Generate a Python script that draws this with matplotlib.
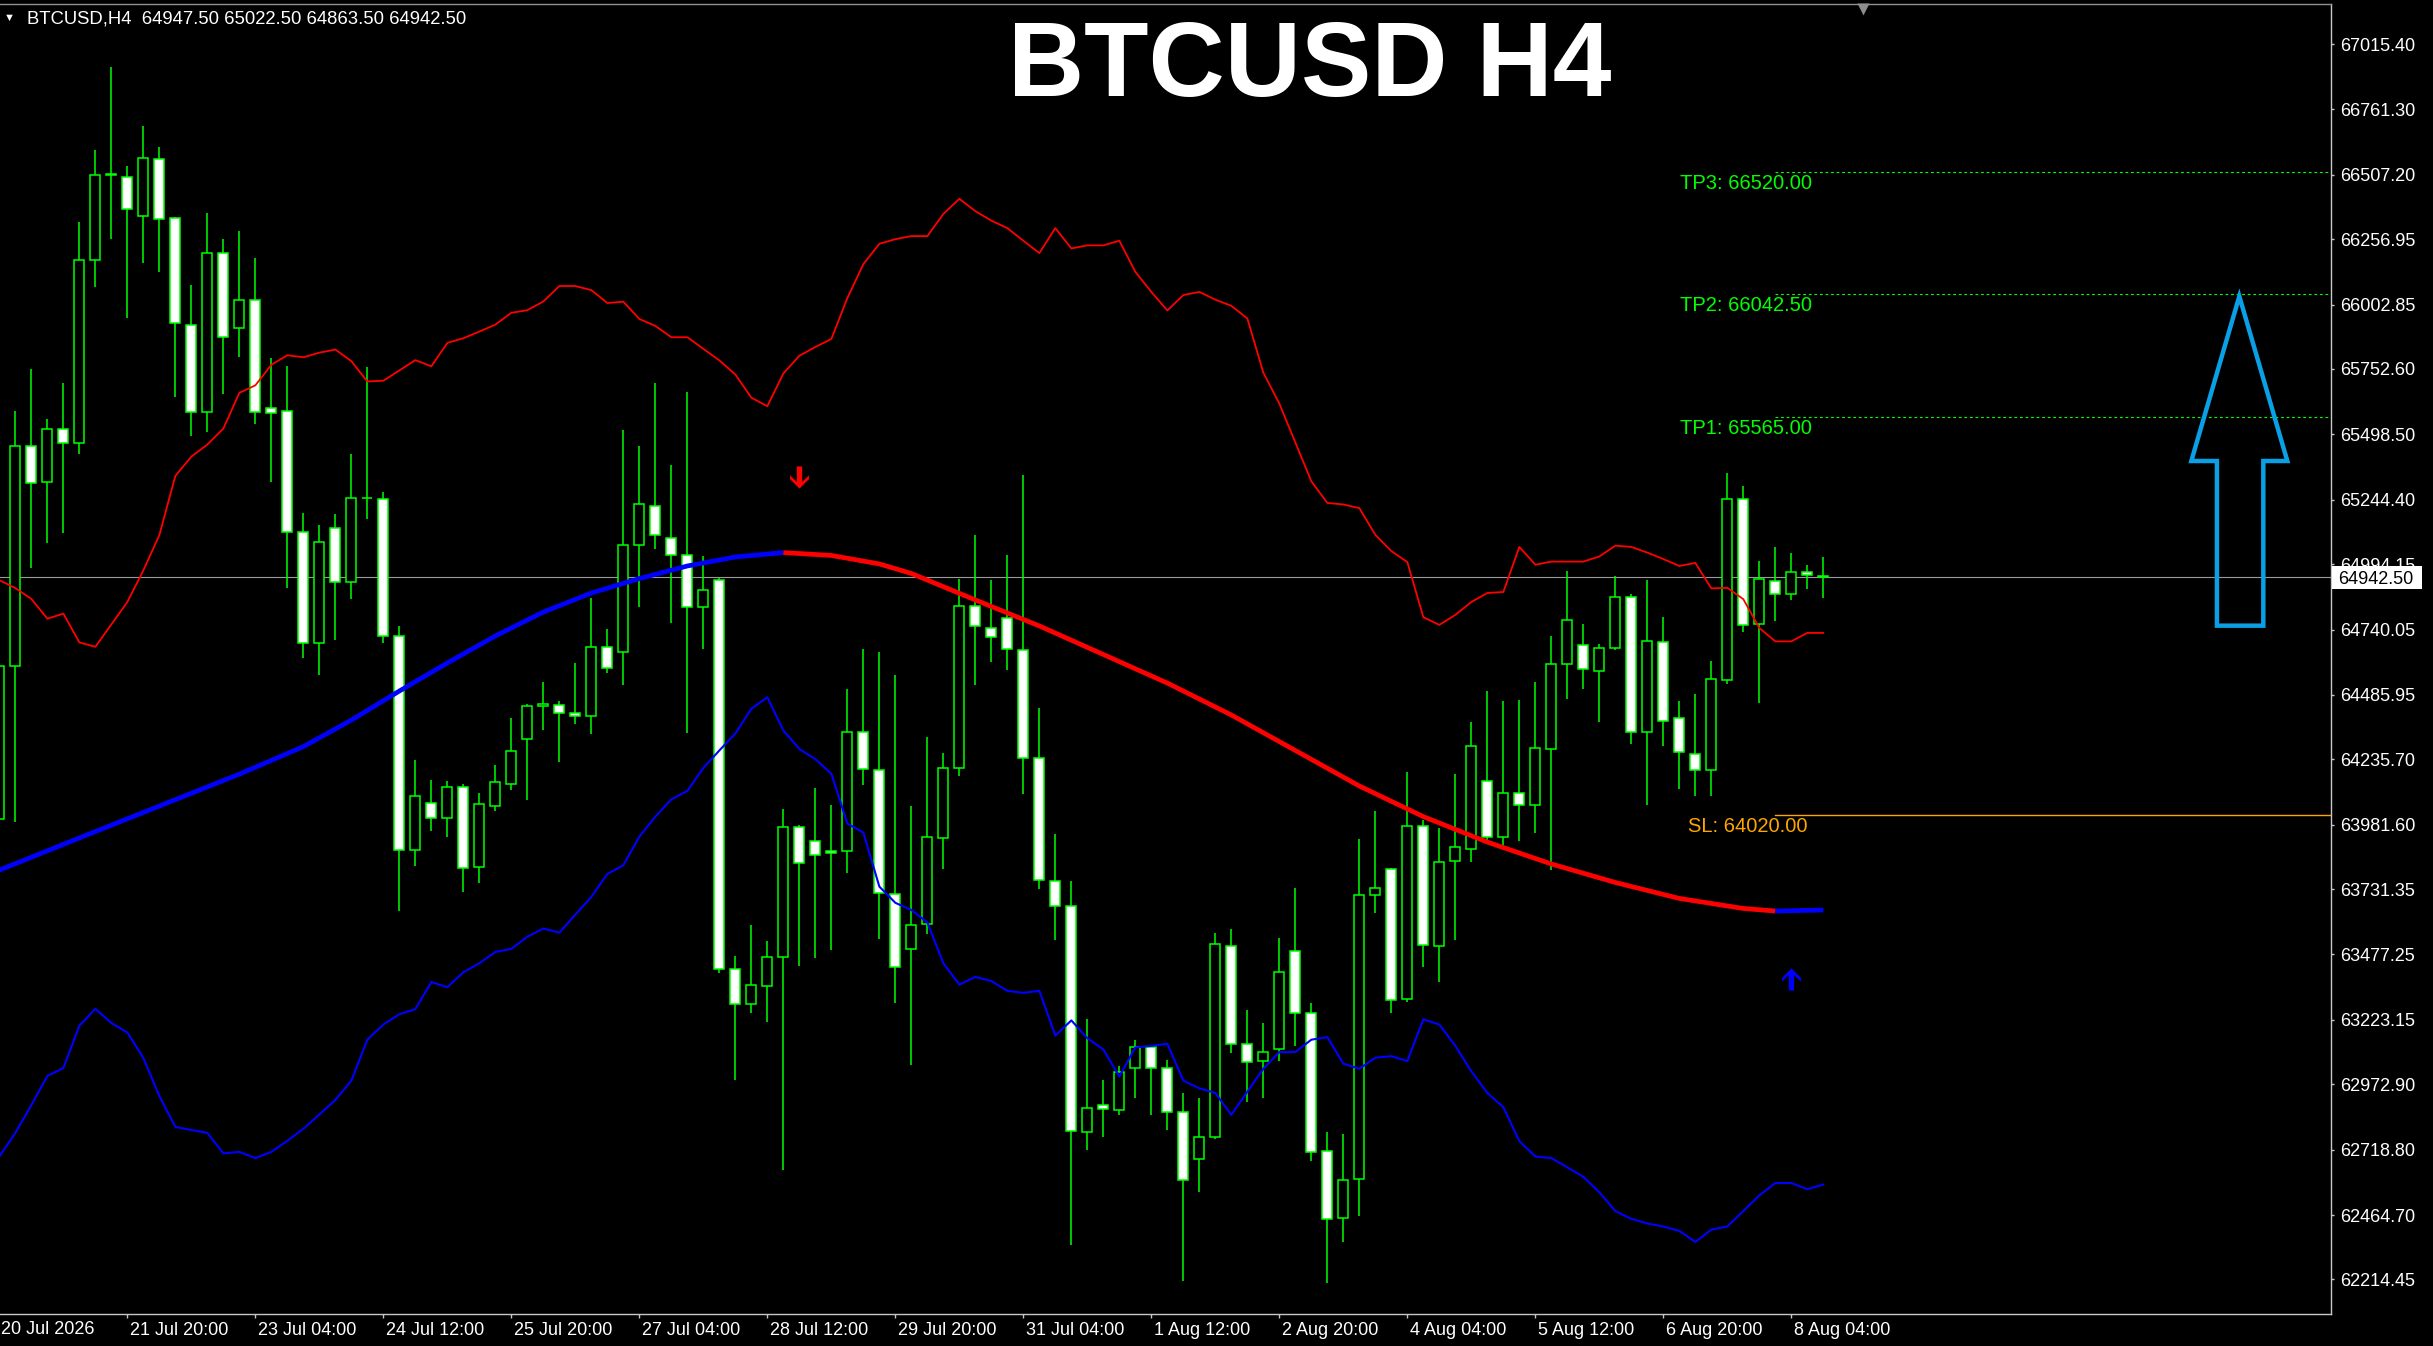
"""BTCUSD H4 screenshot look-alike: MT4 'green on black' candles, bands, MA and TP/SL levels."""

import numpy as np
import matplotlib
matplotlib.use("Agg")
import matplotlib.pyplot as plt
from matplotlib.path import Path
from matplotlib.patches import Polygon, Rectangle
from matplotlib.transforms import ScaledTranslation, blended_transform_factory

plt.rcParams["font.family"] = ["Liberation Sans", "DejaVu Sans"]

# ---- candles, bar index -1 is the one cut by the left edge ----
FIRST_BAR = -1
opens = [64004, 64599, 65454, 65315, 65518, 65464, 66178, 66507, 66500, 66346,
         66567, 66341, 65925, 65585, 66205, 65910, 66019, 65602, 65590, 65119,
         64686, 65136, 64924, 65253, 65249, 64716, 63883, 64067, 64006, 64127,
         63818, 64056, 64141, 64313, 64444, 64448, 64415, 64403, 64674, 64653,
         65070, 65222, 65097, 65030, 64829, 64934, 63422, 63283, 63355, 63466,
         63973, 63919, 63881, 63879, 64341, 64196, 63712, 63500, 63596, 63929,
         64200, 64831, 64747, 64783, 64662, 64242, 63764, 63667, 62789, 62894,
         62874, 63035, 63116, 63035, 62864, 62684, 62769, 63509, 63128, 63062,
         63108, 63489, 63249, 62712, 62452, 62606, 63707, 63809, 63304, 63975,
         63509, 63840, 63889, 64153, 63935, 64103, 64060, 64275, 64605, 64678,
         64578, 64670, 64868, 64340, 64690, 64398, 64258, 64196, 64542, 65246,
         64760, 64927, 64880, 64962, 64947.5]
highs = [64640, 65590, 65751, 65558, 65699, 66324, 66604, 66928, 66542, 66698,
         66616, 66345, 66078, 66358, 66257, 66289, 66185, 65796, 65766, 65194,
         65146, 65190, 65422, 65761, 65275, 64752, 64232, 64155, 64151, 64141,
         64105, 64214, 64397, 64452, 64536, 64462, 64611, 64863, 64742, 65517,
         65454, 65697, 65378, 65664, 65026, 64941, 63471, 63591, 63529, 64042,
         63980, 64125, 64057, 64508, 64664, 64653, 64564, 64054, 64322, 64260,
         64936, 65107, 64932, 65029, 65340, 64434, 63945, 63762, 63227, 62989,
         63043, 63146, 63125, 63066, 62939, 62919, 63562, 63576, 63261, 63211,
         63542, 63736, 63288, 62789, 62781, 63927, 64034, 63815, 64185, 63998,
         63969, 64179, 64379, 64500, 64462, 64467, 64536, 64713, 64969, 64760,
         64682, 64947, 64880, 64931, 64789, 64462, 64489, 64618, 65348, 65298,
         65006, 65061, 65037, 64990, 65022.5]
lows = [63960, 63992, 64978, 65077, 65117, 65424, 66073, 66257, 65949, 66163,
        66128, 65642, 65491, 65506, 65654, 65801, 65538, 65313, 64901, 64631,
        64565, 64698, 64860, 65168, 64686, 63647, 63820, 63959, 63935, 63719,
        63756, 64036, 64115, 64079, 64351, 64224, 64373, 64335, 64573, 64526,
        64829, 65054, 64765, 64336, 64666, 63406, 62991, 63248, 63216, 62641,
        63433, 63462, 63493, 63794, 64135, 63538, 63288, 63047, 63558, 63808,
        64171, 64526, 64613, 64581, 64099, 63731, 63534, 62349, 62716, 62767,
        62852, 62919, 62854, 62795, 62210, 62553, 62760, 63096, 62902, 62918,
        63062, 63122, 62676, 62200, 62359, 62462, 63637, 63251, 63294, 63429,
        63370, 63534, 63836, 63921, 63895, 63919, 63950, 63806, 64471, 64507,
        64379, 64661, 64297, 64059, 64288, 64121, 64095, 64095, 64530, 64731,
        64456, 64772, 64853, 64899, 64863.5]
closes = [64599, 65454, 65310, 65518, 65464, 66178, 66507, 66510, 66373, 66574,
          66334, 65932, 65585, 66202, 65875, 66019, 65585, 65580, 65119, 64688,
          65079, 64924, 65253, 65250, 64716, 63883, 64093, 64008, 64127, 63814,
          64062, 64147, 64268, 64444, 64452, 64416, 64405, 64674, 64591, 65070,
          65229, 65106, 65030, 64827, 64892, 63422, 63283, 63357, 63466, 63973,
          63832, 63863, 63870, 64341, 64198, 63718, 63429, 63592, 63935, 64200,
          64833, 64752, 64710, 64666, 64242, 63768, 63667, 62793, 62882, 62876,
          63021, 63116, 63035, 62866, 62602, 62769, 63516, 63128, 63061, 63100,
          63411, 63249, 62710, 62448, 62602, 63707, 63734, 63300, 63975, 63514,
          63838, 63893, 64286, 63935, 64103, 64060, 64278, 64605, 64779, 64585,
          64670, 64865, 64340, 64694, 64385, 64263, 64196, 64547, 65246, 64756,
          64935, 64877, 64962, 64952, 64942.5]

# band lines, one value per bar
upper_band = [64932, 64901, 64859, 64782, 64802, 64690, 64673, 64760, 64847, 64970,
              65107, 65337, 65412, 65459, 65521, 65660, 65689, 65769, 65806, 65798,
              65816, 65828, 65783, 65704, 65707, 65747, 65787, 65763, 65854, 65872,
              65898, 65925, 65971, 65981, 66015, 66075, 66075, 66059, 66009, 66014,
              65947, 65920, 65876, 65876, 65831, 65786, 65731, 65641, 65608, 65735,
              65804, 65838, 65869, 66028, 66160, 66239, 66257, 66269, 66269, 66355,
              66414, 66366, 66329, 66300, 66251, 66203, 66300, 66221, 66233, 66233,
              66251, 66130, 66052, 65980, 66040, 66052, 66022, 65998, 65949, 65738,
              65618, 65467, 65316, 65232, 65226, 65212, 65108, 65045, 65002, 64788,
              64758, 64797, 64847, 64882, 64886, 65061, 64992, 65004, 65004, 65004,
              65024, 65066, 65061, 65039, 65014, 64987, 64999, 64900, 64902, 64858,
              64746, 64694, 64694, 64727, 64727]
lower_band = [62692, 62784, 62892, 63005, 63036, 63200, 63266, 63211, 63174, 63075,
              62927, 62807, 62795, 62784, 62704, 62710, 62686, 62710, 62753, 62800,
              62855, 62912, 62987, 63146, 63205, 63245, 63265, 63370, 63350, 63408,
              63443, 63487, 63499, 63546, 63578, 63562, 63632, 63701, 63790, 63824,
              63935, 64013, 64080, 64113, 64202, 64270, 64336, 64432, 64477, 64348,
              64276, 64236, 64180, 63986, 63951, 63741, 63678, 63650, 63602, 63443,
              63360, 63390, 63374, 63336, 63328, 63336, 63162, 63221, 63152, 63108,
              63003, 63116, 63122, 63130, 62987, 62957, 62939, 62854, 62944, 63033,
              63098, 63098, 63146, 63156, 63053, 63033, 63076, 63082, 63063, 63225,
              63205, 63122, 63023, 62939, 62884, 62752, 62692, 62686, 62650, 62613,
              62553, 62480, 62450, 62432, 62420, 62403, 62360, 62408, 62420, 62480,
              62541, 62589, 62589, 62565, 62583]

# thick moving average, read every few bars; colour flips at the turns
ma_bars = [-1, 4, 9, 14, 18, 21, 24, 27, 30, 33, 36, 39, 42, 45, 48, 51, 54, 56,
           60, 64, 68, 72, 76, 80, 84, 88, 92, 96, 100, 104, 108, 110, 113]
ma_vals = [63805, 63930, 64054, 64178, 64285, 64388, 64501, 64610, 64715, 64808,
           64882, 64938, 64987, 65022, 65039, 65028, 64995, 64958,
           64855, 64754, 64643, 64532, 64408, 64270, 64132, 64013, 63914, 63829,
           63757, 63695, 63656, 63646, 63650]
ma_top_bar = 48
ma_low_bar = 110

price_ticks = [67015.40, 66761.30, 66507.20, 66256.95, 66002.85, 65752.60, 65498.50,
               65244.40, 64994.15, 64740.05, 64485.95, 64235.70, 63981.60, 63731.35,
               63477.25, 63223.15, 62972.90, 62718.80, 62464.70, 62214.45]
time_bars = [7, 15, 23, 31, 39, 47, 55, 63, 71, 79, 87, 95, 103, 111]
time_labels = ["21 Jul 20:00", "23 Jul 04:00", "24 Jul 12:00", "25 Jul 20:00",
               "27 Jul 04:00", "28 Jul 12:00", "29 Jul 20:00", "31 Jul 04:00",
               "1 Aug 12:00", "2 Aug 20:00", "4 Aug 04:00", "5 Aug 12:00",
               "6 Aug 20:00", "8 Aug 04:00"]
first_date = "20 Jul 2026"

last_price = 64942.50
tp_names = ["TP3", "TP2", "TP1"]
tp_levels = [66520.00, 66042.50, 65565.00]
sl_level = 64020.00
level_start_bar = 110.0
level_label_bar = 112.3

signal_down = (49, 65333)
signal_up = (111, 63383)

big_arrow_bars = [139.0, 142.0, 140.5, 140.5, 137.6, 137.6, 136.0]
big_arrow_prices = [66035, 65395, 65395, 64755, 64755, 65395, 65395]

LIME = "#00ff00"
W, H = 2433, 1346

fig = plt.figure(figsize=(W / 100, H / 100), dpi=100, facecolor="black")
ax = fig.add_axes([0, 32 / H, 2331 / W, 1310 / H], facecolor="black")

bars = np.arange(FIRST_BAR, FIRST_BAR + len(opens))
o, h, l, c = (np.asarray(v, dtype=float) for v in (opens, highs, lows, closes))
bear = c < o

ax.vlines(bars, l, h, color=LIME, lw=1.1, zorder=2)
ax.bar(bars, np.abs(c - o), bottom=np.minimum(o, c), width=0.64,
       color=np.where(bear, "white", "black"), edgecolor=LIME, linewidth=1.1, zorder=3)

ax.plot(bars, upper_band, color="#ff0000", lw=1.3, zorder=4)
ax.plot(bars, lower_band, color="#0000ff", lw=1.5, zorder=4)

mb, mv = np.asarray(ma_bars), np.asarray(ma_vals)
for sel, col in [(mb <= ma_top_bar, "#0000ff"),
                 ((mb >= ma_top_bar) & (mb <= ma_low_bar), "#ff0000"),
                 (mb >= ma_low_bar, "#0000ff")]:
    ax.plot(mb[sel], mv[sel], color=col, lw=3.4, zorder=5, solid_capstyle="butt",
            solid_joinstyle="round")

ax.axhline(last_price, color="#9a9a9a", lw=0.8, zorder=1)

ax.set_xlim(-0.96, 144.73)
ax.set_ylim(62080, 67171)
x_end = ax.get_xlim()[1]

# take-profit / stop-loss levels
for name, lvl in zip(tp_names, tp_levels):
    ax.plot([level_start_bar, x_end], [lvl, lvl], color=LIME, lw=0.8,
            ls=(0, (2.5, 2.5)), zorder=4)
    ax.annotate(f"{name}: {lvl:.2f}", xy=(level_label_bar, lvl), xytext=(0, -2),
                textcoords="offset pixels", ha="right", va="top", color=LIME, fontsize=14.5)
ax.plot([level_start_bar, x_end], [sl_level, sl_level], color="#ffa500", lw=1.0, zorder=4)
ax.annotate(f"SL: {sl_level:.2f}", xy=(level_label_bar - 0.3, sl_level), xytext=(0, -2),
            textcoords="offset pixels", ha="right", va="top", color="#ffa500", fontsize=14.5)

# signal arrows
up_path = Path([(0, 1), (0.85, 0.15), (0.85, -0.2), (0.24, 0.4), (0.24, -1),
                (-0.24, -1), (-0.24, 0.4), (-0.85, -0.2), (-0.85, 0.15), (0, 1)], closed=True)
down_path = Path(up_path.vertices * [1, -1], up_path.codes)
ax.plot(*signal_down, marker=down_path, ms=16, color="#ff0000", mec="none", zorder=6)
ax.plot(*signal_up, marker=up_path, ms=16, color="#0000ff", mec="none", zorder=6)

ax.add_patch(Polygon(np.column_stack([big_arrow_bars, big_arrow_prices]), closed=True,
                     fill=False, edgecolor="#0aa0e6", lw=3.2, joinstyle="miter", zorder=6))

# axes styling
ax.spines["left"].set_visible(False)
ax.spines["top"].set_color("#909090")
ax.spines["right"].set_color("#c8c8c8")
ax.spines["bottom"].set_color("#c8c8c8")
for s in ("top", "right", "bottom"):
    ax.spines[s].set_linewidth(1.0)

ax.yaxis.tick_right()
ax.set_yticks(price_ticks)
ax.set_yticklabels([f"{v:.2f}" for v in price_ticks])
ax.tick_params(axis="y", colors="#c8c8c8", labelcolor="white", length=2.5, width=1,
               pad=4, labelsize=13)
ax.set_xticks(time_bars)
ax.set_xticklabels(time_labels)
ax.tick_params(axis="x", colors="#c8c8c8", labelcolor="white", length=3, width=1,
               pad=3, labelsize=13)
shift = ScaledTranslation(3 / 100, 0, fig.dpi_scale_trans)
for lbl in ax.get_xticklabels():
    lbl.set_horizontalalignment("left")
    lbl.set_transform(lbl.get_transform() + shift)
ax.set_xlim(-0.96, 144.73)
ax.set_ylim(62080, 67171)

ax.annotate(first_date, xy=(0, 0), xycoords="axes fraction", xytext=(1, -7),
            textcoords="offset pixels", ha="left", va="top", color="white", fontsize=13)

# current price tag on the scale
tr = blended_transform_factory(fig.transFigure, ax.transData)
px = (67171 - 62080) / 1310
ax.add_patch(Rectangle((2332 / W, last_price - 11.5 * px), 90 / W, 23 * px, transform=tr,
                       facecolor="white", edgecolor="none", clip_on=False, zorder=10))
ax.text(2338 / W, last_price, f"{last_price:.2f}", transform=tr, ha="left",
        va="center_baseline", color="black", fontsize=13, zorder=11, clip_on=False)

# chart-shift marker
ax.plot([115.5], [0.9965], marker="v", ms=9, color="#8c8c8c", mec="none",
        transform=blended_transform_factory(ax.transData, ax.transAxes), clip_on=False)

# header and title
fig.text(9 / W, 1 - 18 / H, "▼", ha="center", va="center", color="white", fontsize=8)
fig.text(27 / W, 1 - 19 / H, "BTCUSD,H4  64947.50 65022.50 64863.50 64942.50",
         ha="left", va="center", color="white", fontsize=13.3)
fig.text(1310 / W, 1 - 96 / H, "BTCUSD H4", ha="center", va="baseline", color="white",
         fontsize=76, fontweight="bold")

fig.savefig("out.png", dpi=100, facecolor="black")
